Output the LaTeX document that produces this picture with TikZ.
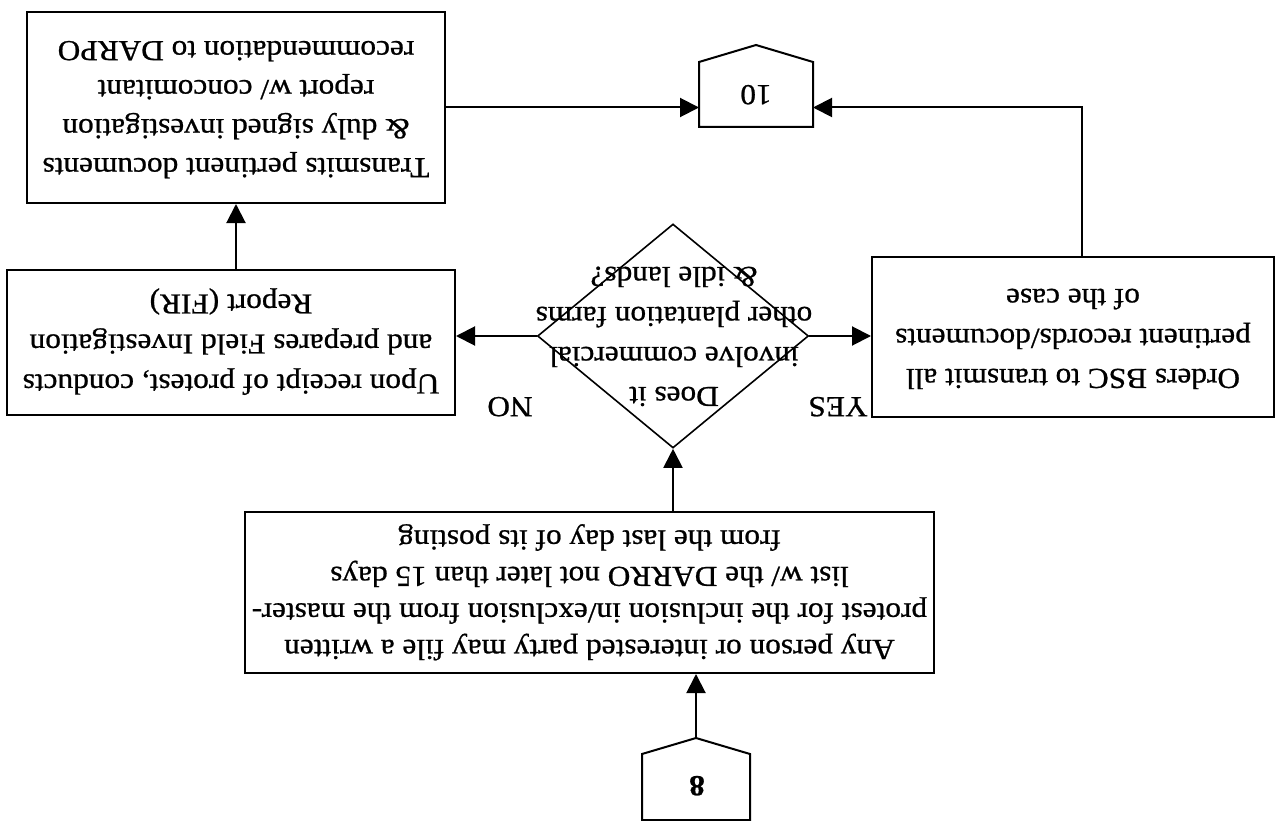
\documentclass[tikz,border=0pt]{standalone}
\usepackage{fontspec}
\setmainfont{Liberation Serif}[FakeStretch=1.08,FakeBold=0.8]
\usetikzlibrary{arrows.meta,shapes.geometric,calc}
\newcommand{\fliptext}[2][39]{\rotatebox[origin=c]{180}{\fontsize{29}{#1}\selectfont\begin{tabular}{@{}c@{}}#2\end{tabular}}}
\tikzset{
  boxnode/.style={draw=black, line width=2pt, rectangle, inner sep=0pt},
  plain/.style={inner sep=0pt, outer sep=0pt},
  arr/.style={line width=2pt, -{Triangle[length=19pt,width=19pt]}},
  ln/.style={line width=2pt},
}
\begin{document}
\begin{tikzpicture}[x=1pt,y=-1pt]
\useasboundingbox (0,0) rectangle (1279,821);
\fill[white] (0,0) rectangle (1279,821);
% boxes
\node[boxnode, minimum width=418pt, minimum height=191pt] (tr) at (236,107.5)
  {\fliptext{Transmits pertinent documents\\ \& duly signed investigation\\ report w/ concomitant\\ recommendation to DARPO}};
\node[boxnode, minimum width=448pt, minimum height=145pt] (lb) at (231,342.5)
  {\fliptext[40]{Upon receipt of protest, conducts\\ and prepares Field Investigation\\ Report (FIR)}};
\node[boxnode, minimum width=402pt, minimum height=160pt] (ob) at (1073,337)
  {\fliptext[40]{Orders BSC to transmit all\\ pertinent records/documents\\ of the case}};
\node[boxnode, minimum width=689pt, minimum height=161pt] (pr) at (589.5,592.5)
  {\fliptext[36.5]{Any person or interested party may file a written\\ protest for the inclusion in/exclusion from the master-\\ list w/ the DARRO not later than 15 days\\ from the last day of its posting}};
% decision
\node[draw, diamond, line width=1.6pt, minimum width=271pt, minimum height=224pt, inner sep=0pt] (q) at (673,336) {};
\node[plain] (qt) at (674,335) {\fliptext[40]{Does it\\ involve commercial\\ other plantation farms\\ \& idle lands?}};
\node[plain] (no) at (510,405) {\fliptext{NO}};
\node[plain] (yes) at (838,405) {\fliptext{YES}};
% off-page connectors
\node[plain, minimum width=114pt, minimum height=82pt] (ten) at (756,86) {};
\draw[ln, line join=miter] (ten.south west) -- (ten.south east) -- ($(ten.south east)+(0,-65)$) -- (ten.north) -- ($(ten.south west)+(0,-65)$) -- cycle;
\node[plain] (tenl) at (756,93) {\fliptext{10}};
\node[plain, minimum width=108pt, minimum height=82pt] (eight) at (696,779) {};
\draw[ln, line join=miter] (eight.south west) -- (eight.south east) -- ($(eight.south east)+(0,-66)$) -- (eight.north) -- ($(eight.south west)+(0,-66)$) -- cycle;
\node[plain] (eightl) at (697,784) {\fliptext{\textbf{8}}};
% connectors
\draw[arr] (eight.north) -- (eight.north |- pr.south);
\draw[arr] (pr.north -| q.south) -- (q.south);
\draw[arr] (q.west) -- (q.west -| lb.east);
\draw[arr] (q.east) -- (q.east -| ob.west);
\draw[arr] (tr.south |- lb.north) -- (tr.south);
\draw[arr] (tr.east) -- (tr.east -| ten.west);
\draw[arr] ($(ob.north)+(9,0)$) |- (tr.east -| ten.east);
\end{tikzpicture}
\end{document}
